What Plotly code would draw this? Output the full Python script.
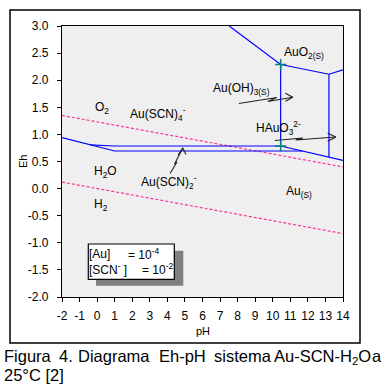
import plotly.graph_objects as go

# ---- data ----
x_ticks = [-2, -1, 0, 1, 2, 3, 4, 5, 6, 7, 8, 9, 10, 11, 12, 13, 14]
x_ticktext = [str(v) for v in x_ticks]
y_ticks = [-2.0, -1.5, -1.0, -0.5, 0.0, 0.5, 1.0, 1.5, 2.0, 2.5, 3.0]
y_ticktext = ["-2.0", "-1.5", "-1.0", "-0.5", "0.0", "0.5", "1.0", "1.5", "2.0", "2.5", "3.0"]

# water stability lines (dashed pink)
o2_ph = [-2, 14]
o2_eh = [1.35, 0.40]
h2_ph = [-2, 14]
h2_eh = [0.12, -0.83]

# gold species boundaries (blue)
b1_ph = [-2, 1.0, 11.7]          # Au(SCN)2- / Au lower boundary
b1_eh = [0.94, 0.694, 0.694]
b2_ph = [-0.4, 1.0, 10.45]       # Au(SCN)4- / Au(SCN)2-
b2_eh = [0.807, 0.786, 0.786]
b3_ph = [7.52, 10.45, 13.2, 14]  # AuO2 boundary
b3_eh = [3.0, 2.29, 2.11, 2.19]
b4_ph = [10.45, 10.45]           # vertical at pH 10.45
b4_eh = [2.29, 0.786]
b5_ph = [13.2, 13.2]             # vertical at pH 13.2
b5_eh = [2.11, 0.58]
b6_ph = [10.45, 14]              # HAuO3 2- / Au
b6_eh = [0.786, 0.52]

# triple points (green crosses)
tp_ph = [10.45, 10.45]
tp_eh = [2.29, 0.786]

# field labels
lab_text = ["O<sub>2</sub>", "Au(SCN)<sub>4</sub><sup>-</sup>", "H<sub>2</sub>O",
            "Au(SCN)<sub>2</sub><sup>-</sup>", "H<sub>2</sub>", "AuO<sub>2(S)</sub>",
            "Au(OH)<sub>3(S)</sub>", "HAuO<sub>3</sub><sup>2-</sup>", "Au<sub>(S)</sub>"]
lab_ph = [0.25, 3.45, 0.5, 4.1, 0.2, 11.8, 8.2, 10.3, 11.5]
lab_eh = [1.49, 1.38, 0.30, 0.12, -0.30, 2.51, 1.83, 1.11, -0.06]

# zig-zag arrows
ar1_ph = [8.07, 10.23, 9.72, 11.14]
ar1_eh = [1.570, 1.681, 1.607, 1.684]
ar1h_ph = [10.72, 11.14, 10.72]
ar1h_eh = [1.76, 1.684, 1.61]
ar2_ph = [10.12, 11.71, 11.31, 13.59]
ar2_eh = [0.887, 0.934, 0.897, 0.952]
ar2h_ph = [13.13, 13.59, 13.13]
ar2h_eh = [1.02, 0.952, 0.875]
ar3_ph = [4.15, 4.55, 4.41, 4.875]
ar3_eh = [0.279, 0.491, 0.454, 0.749]
ar3h_ph = [4.61, 4.875, 5.06]
ar3h_eh = [0.62, 0.749, 0.63]

# caption words (pixel x positions of words)
cap_words = ["Figura", "4.", "Diagrama", "Eh-pH", "sistema", "Au-SCN-H<sub>2</sub>O", "a"]
cap_x = [2, 57, 76, 157, 212, 272, 370]

# ---- layout geometry ----
W, H = 388, 387
L, R, T, B = 62, 343, 26, 297


def px(x):
    return (x - L) / (R - L)


def py(y):
    return (B - y) / (B - T)


fig = go.Figure()
blue = "#0000ff"
pink = "#ff3399"
for xs, ys in [(o2_ph, o2_eh), (h2_ph, h2_eh)]:
    fig.add_trace(go.Scatter(x=xs, y=ys, mode="lines",
                             line=dict(color=pink, width=1.2, dash="3px,2px"),
                             hoverinfo="skip"))
for xs, ys in [(b1_ph, b1_eh), (b2_ph, b2_eh), (b3_ph, b3_eh), (b4_ph, b4_eh),
               (b5_ph, b5_eh), (b6_ph, b6_eh)]:
    fig.add_trace(go.Scatter(x=xs, y=ys, mode="lines",
                             line=dict(color=blue, width=1.2), hoverinfo="skip"))
for xs, ys in [(ar1_ph, ar1_eh), (ar1h_ph, ar1h_eh), (ar2_ph, ar2_eh),
               (ar2h_ph, ar2h_eh), (ar3_ph, ar3_eh), (ar3h_ph, ar3h_eh)]:
    fig.add_trace(go.Scatter(x=xs, y=ys, mode="lines",
                             line=dict(color="#222222", width=1.1), hoverinfo="skip"))
fig.add_trace(go.Scatter(x=tp_ph, y=tp_eh, mode="markers",
                         marker=dict(symbol="cross-thin", size=8,
                                     line=dict(color="#008080", width=1.5)),
                         hoverinfo="skip"))

ann = []
for t, xx, yy in zip(lab_text, lab_ph, lab_eh):
    ann.append(dict(x=xx, y=yy, xref="x", yref="y", text=t, showarrow=False,
                    xanchor="center", yanchor="middle",
                    font=dict(size=12, color="black", family="Liberation Sans, Arial")))

# concentration box text
box_font = dict(size=12, color="black", family="Liberation Sans, Arial")
box_items = [("[Au]", 87, 254), ("= 10<sup>-4</sup>", 126, 254),
             ("[SCN<sup>-</sup> ]", 87, 269), ("= 10<sup>-2</sup>", 140, 269)]
for t, xx, yy in box_items:
    ann.append(dict(x=px(xx), y=py(yy), xref="paper", yref="paper", text=t, showarrow=False,
                    xanchor="left", yanchor="middle", font=box_font))
# axis titles
ann += [
    dict(x=px(203), y=py(331), xref="paper", yref="paper", text="pH", showarrow=False,
         xanchor="center", yanchor="middle",
         font=dict(size=11, color="black", family="Liberation Sans, Arial")),
    dict(x=px(23), y=py(162), xref="paper", yref="paper", text="Eh", showarrow=False,
         xanchor="center", yanchor="middle", textangle=-90,
         font=dict(size=11, color="black", family="Liberation Sans, Arial")),
]
# caption
cap_font = dict(size=16.5, color="black", family="Liberation Sans, Arial")
for w, xx in zip(cap_words, cap_x):
    ann.append(dict(x=px(xx), y=py(345), xref="paper", yref="paper", text=w,
                    showarrow=False, xanchor="left", yanchor="top", font=cap_font))
ann.append(dict(x=px(2), y=py(364), xref="paper", yref="paper", text="25°C [2]",
                showarrow=False, xanchor="left", yanchor="top", font=cap_font))

shapes = [
    # outer frame
    dict(type="rect", xref="paper", yref="paper", x0=px(10), x1=px(360), y0=py(343), y1=py(10),
         line=dict(color="black", width=1.5), layer="below"),
    # shadow
    dict(type="rect", xref="paper", yref="paper", x0=px(96), x1=px(183.3), y0=py(285.7),
         y1=py(250.7), line=dict(width=0), fillcolor="#808080", layer="above"),
    # white box
    dict(type="rect", xref="paper", yref="paper", x0=px(88.3), x1=px(174.3), y0=py(279.3),
         y1=py(244), line=dict(color="black", width=1.2), fillcolor="white", layer="above"),
]

fig.update_layout(
    width=W, height=H,
    margin=dict(l=L, r=W - R, t=T, b=H - B, pad=0),
    paper_bgcolor="white", plot_bgcolor="#efefef",
    showlegend=False,
    annotations=ann, shapes=shapes,
    font=dict(family="Liberation Sans, Arial", size=11, color="black"),
)
fig.update_xaxes(range=[-2, 14], tickvals=x_ticks, ticktext=x_ticktext,
                 showgrid=False, zeroline=False, showline=True, linecolor="black",
                 linewidth=1.2, mirror=True, ticks="outside", ticklen=4,
                 tickcolor="black", tickfont=dict(size=12), ticklabelstandoff=3)
fig.update_yaxes(range=[-2, 3], tickvals=y_ticks, ticktext=y_ticktext,
                 showgrid=False, zeroline=False, showline=True, linecolor="black",
                 linewidth=1.2, mirror=True, ticks="outside", ticklen=4,
                 tickcolor="black", tickfont=dict(size=12), ticklabelstandoff=6)

fig.write_html("out.html", config={"displayModeBar": False},
               post_script="document.body.style.margin='0';document.body.style.padding='0';document.body.style.overflow='hidden';")
